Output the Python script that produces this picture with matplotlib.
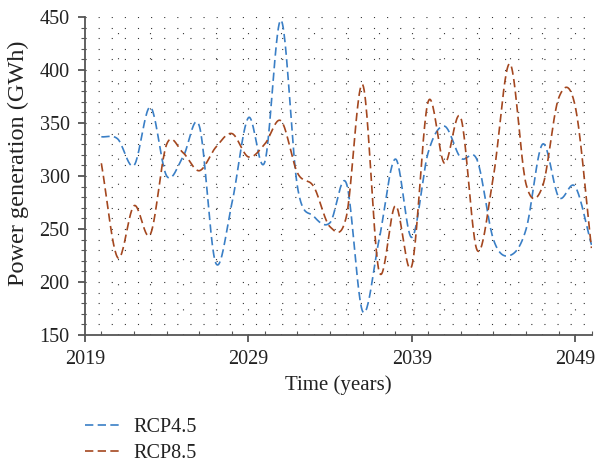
import numpy as np
import matplotlib
matplotlib.use("Agg")
import matplotlib.pyplot as plt
from matplotlib.ticker import MultipleLocator, FixedLocator

years = list(range(2020, 2051))
rcp45 = [337, 335, 310, 365, 300, 318, 347, 218, 275, 355, 313, 447, 290, 262, 256,
         293, 172, 240, 316, 242, 322, 347, 317, 315, 240, 225, 250, 330, 280, 290, 235]
rcp85 = [312, 223, 272, 245, 330, 322, 305, 327, 340, 318, 330, 352, 303, 290, 252,
         262, 386, 210, 272, 215, 370, 312, 355, 230, 300, 406, 292, 290, 374, 366, 232]
labels = ["RCP4.5", "RCP8.5"]
colors = ["#3A7FC6", "#A4471F"]
xticks = [2019, 2029, 2039, 2049]
yticks = [150, 200, 250, 300, 350, 400, 450]


def smooth(x, y, n=24):
    x = np.asarray(x, float)
    y = np.asarray(y, float)
    m = np.empty_like(y)
    m[1:-1] = (y[2:] - y[:-2]) / 2.0
    m[0] = y[1] - y[0]
    m[-1] = y[-1] - y[-2]
    xs, ys = [], []
    for i in range(len(x) - 1):
        t = np.linspace(0, 1, n, endpoint=False)
        h00 = 2 * t**3 - 3 * t**2 + 1
        h10 = t**3 - 2 * t**2 + t
        h01 = -2 * t**3 + 3 * t**2
        h11 = t**3 - t**2
        xs.append(x[i] + t * (x[i + 1] - x[i]))
        ys.append(h00 * y[i] + h10 * m[i] + h01 * y[i + 1] + h11 * m[i + 1])
    xs.append([x[-1]])
    ys.append([y[-1]])
    return np.concatenate(xs), np.concatenate(ys)


plt.rcParams['font.family'] = ['Liberation Serif', 'DejaVu Serif']
TXT = "#222222"

fig = plt.figure(figsize=(5.97, 4.63), dpi=100)
ax = fig.add_axes([85 / 597, 128 / 463, (591.5 - 85) / 597, (446 - 128) / 463])

for vals, lab, col in zip([rcp45, rcp85], labels, colors):
    sx, sy = smooth(years, vals)
    ax.plot(sx, sy, color=col, lw=1.2, dashes=(5.0, 2.6), label=lab, zorder=3)

ax.set_xlim(2019, 2050)
ax.set_ylim(150, 450)
ax.xaxis.set_major_locator(FixedLocator(xticks))
ax.xaxis.set_minor_locator(MultipleLocator(2))
ax.yaxis.set_major_locator(FixedLocator(yticks))
ax.yaxis.set_minor_locator(MultipleLocator(10))

# dotted grid
for yv in np.arange(160, 451, 10):
    ax.axhline(yv, color="#333333", lw=0.8, dashes=(1, 10.8), zorder=1)
for xv in np.arange(2021, 2050, 2):
    ax.axvline(xv, color="#333333", lw=0.8, dashes=(1, 21.6), zorder=1)

for s in ["top", "right"]:
    ax.spines[s].set_visible(False)
for s in ["left", "bottom"]:
    ax.spines[s].set_color("#555555")
    ax.spines[s].set_linewidth(1.3)

ax.tick_params(axis="both", which="major", length=5, width=1.3, color="#555555",
               labelsize=14.5, labelcolor=TXT)
ax.tick_params(axis="y", which="major", pad=6)
ax.tick_params(axis="x", which="major", pad=6)
ax.tick_params(axis="y", which="minor", length=3, width=0.8, color="#555555")
ax.tick_params(axis="x", which="minor", direction="in", length=3, width=0.8, color="#555555")

ax.set_xlabel("Time (years)", fontsize=15, color=TXT, labelpad=4)
ax.set_ylabel("Power generation (GWh)", fontsize=17.5, color=TXT)
ax.yaxis.set_label_coords(-0.11, 0.54)

fig.legend(loc="upper left", bbox_to_anchor=(67 / 597, 1 - 400 / 463), frameon=False,
           fontsize=14.5, handlelength=1.7, handletextpad=0.7, labelspacing=0.35,
           labelcolor=TXT)

fig.savefig("out.png", dpi=100)
